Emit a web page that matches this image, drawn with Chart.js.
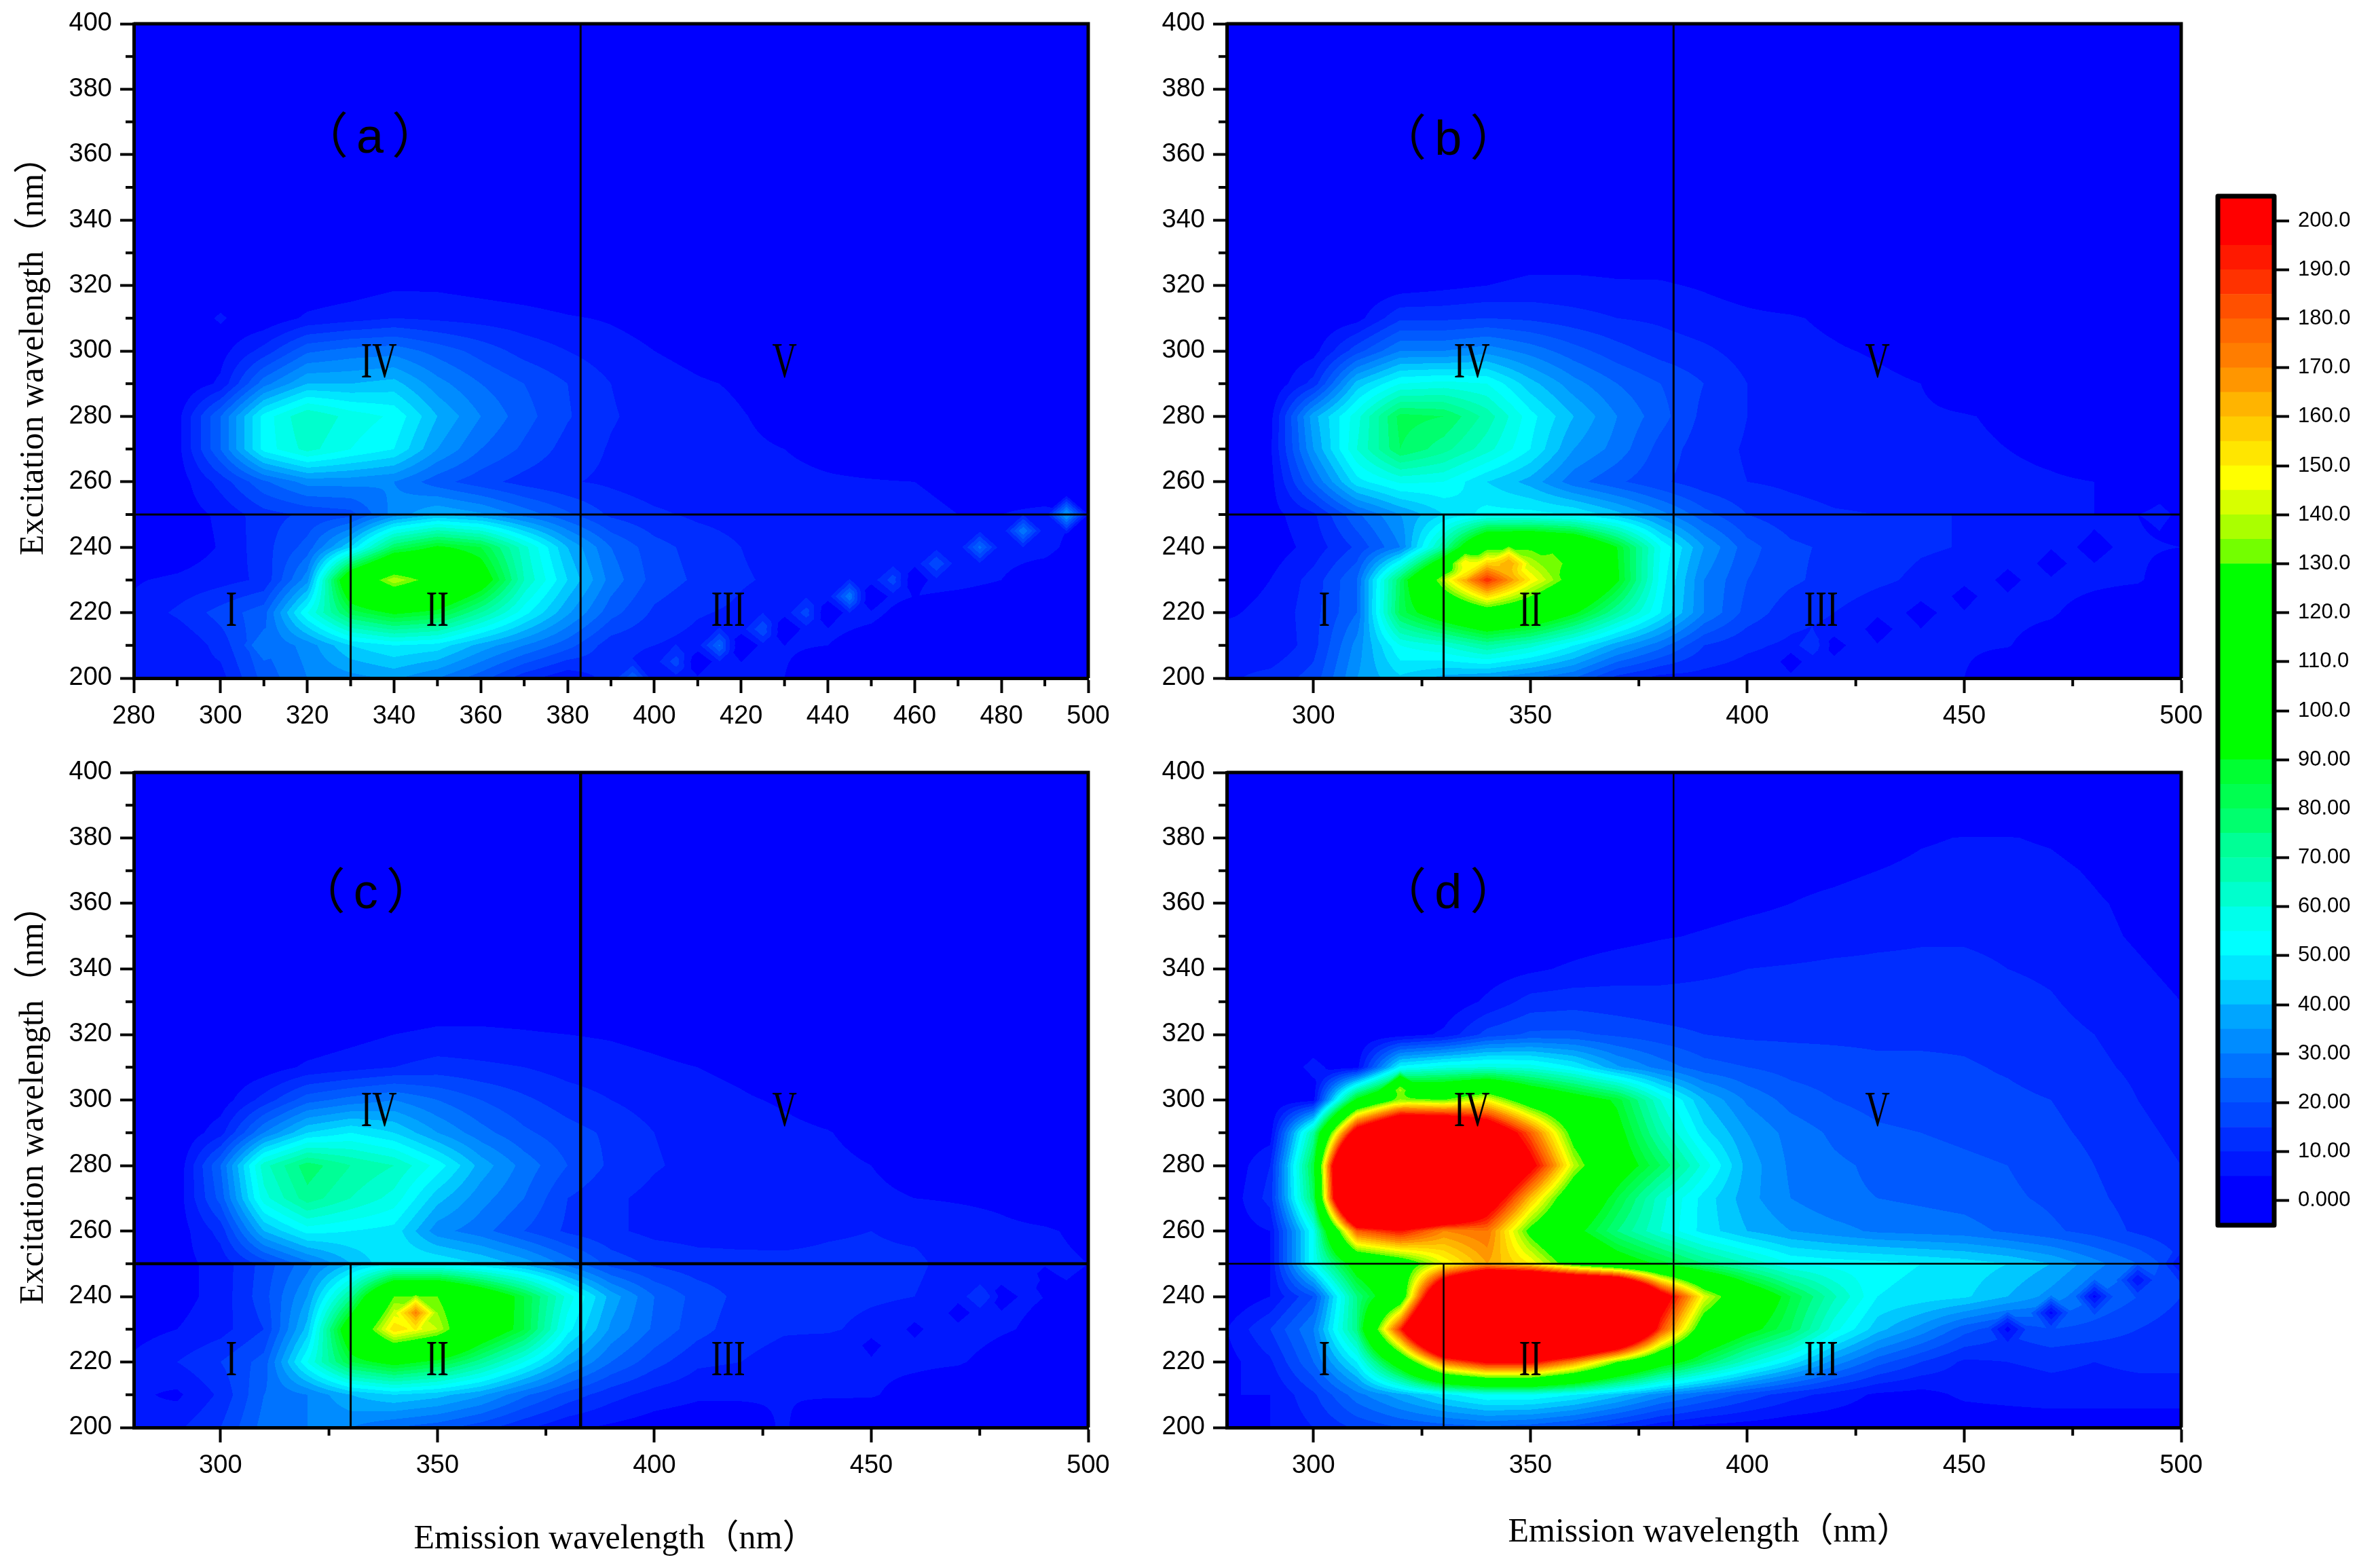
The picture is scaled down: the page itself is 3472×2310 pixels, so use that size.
<!DOCTYPE html>
<html>
<head>
<meta charset="utf-8">
<title>EEM contours</title>
<script src="https://cdn.jsdelivr.net/npm/chart.js@4/dist/chart.umd.min.js"></script>
<style>
  html, body { margin: 0; padding: 0; background: #fff; }
  #page { position: relative; width: 3472px; height: 2310px; overflow: hidden; }
  canvas { position: absolute; }
</style>
</head>
<body>
<div id="page"></div>
<script>
// Emission (columns) and excitation (rows) wavelengths of the intensity tables
const emNodes = [280,290,300,310,320,330,340,350,360,370,380,390,400,410,420,430,440,450,460,470,480,490,500];
const exNodes = [400,390,380,370,360,350,340,330,320,310,300,290,280,270,260,250,240,230,220,210,200];

const intensityA = [
  [0,0,0,0,0,0,0,0,0,0,0,0,0,0,0,0,0,0,0,0,0,0,0],
  [0,0,0,0,0,0,0,0,0,0,0,0,0,0,0,0,0,0,0,0,0,0,0],
  [0,0,0,0,0,0,0,0,0,0,0,0,0,0,0,0,0,0,0,0,0,0,0],
  [0,0,0,0,0,0,0,0,0,0,0,0,0,0,0,0,0,0,0,0,0,0,0],
  [0,0,0,0,0,0,0,0,0,0,0,0,0,0,0,0,0,0,0,0,0,0,0],
  [0,0,0,0,0,0,0,0,0,0,0,0,0,0,0,0,0,0,0,0,0,0,0],
  [0,0,0,0,0,0,0,0,0,0,0,0,0,0,0,0,0,0,0,0,0,0,0],
  [0,0,0,0,0,0,0,0,0,0,0,0,0,0,0,0,0,0,0,0,0,0,0],
  [0,0,0,0,1,2,4,4,3,2,1,0,0,0,0,0,0,0,0,0,0,0,0],
  [0,0,0,1,6,8,10,9,8,7,5.5,4.5,3,1,0,0,0,0,0,0,0,0,0],
  [0,0,3,12,24,27,28,23,18,13,10,7,5,3.5,2,1,0,0,0,0,0,0,0],
  [0,0,6,28,40,40,42,32,25,20,15,10,7,5.5,4.5,3,1,0,0,0,0,0,0],
  [0,3,25,52,65,58,54,40,30,22,15.5,10.5,8,6.5,5.2,4,2,1,0,0,0,0,0],
  [0,3,25,52,62,55,50,35,25,19,13,9.5,7.5,6.5,5.5,5,4,3,2,1,0,0,0],
  [0,2,12,24,32,32,30,22,17,13,10.5,9,7,6.5,6,5.8,5.4,5.2,5,4,3,2,1],
  [0,2,6,13,16,18,32,40,36,28,21,14,11,9,8,7.5,7,6.5,6,5,5,6,5],
  [0,1,5.5,13,22,45,80,92,85,62,40,25,17,13,10,8,7,6,5.5,6,6,6,3],
  [4.5,6,8,11,33,110,140,122,100,65,45,28,18,14,10.5,9,8,7,7,6.5,5,3,2],
  [6,11,17,23,55,82,92,87,70,52,36,22,14,10.5,9,7,6.5,6,3,1.5,1,0,0],
  [6,5,12,25,32,45,50,48,38,30,22,12,10,8,6,5.5,5,3,1,0,0,0,0],
  [8,9,8,22,30,33,36,30,22,12,6,12,5,6,5,5,1,0,0,0,0,0,0]
];
const intensityB = [
  [0,0,0,0,0,0,0,0,0,0,0,0,0,0,0,0,0,0,0,0,0,0,0],
  [0,0,0,0,0,0,0,0,0,0,0,0,0,0,0,0,0,0,0,0,0,0,0],
  [0,0,0,0,0,0,0,0,0,0,0,0,0,0,0,0,0,0,0,0,0,0,0],
  [0,0,0,0,0,0,0,0,0,0,0,0,0,0,0,0,0,0,0,0,0,0,0],
  [0,0,0,0,0,0,0,0,0,0,0,0,0,0,0,0,0,0,0,0,0,0,0],
  [0,0,0,0,0,0,0,0,0,0,0,0,0,0,0,0,0,0,0,0,0,0,0],
  [0,0,0,0,0,0,0,0,0,0,0,0,0,0,0,0,0,0,0,0,0,0,0],
  [0,0,0,0,0,1,2,3,3,3,2.5,2,1,0,0,0,0,0,0,0,0,0,0],
  [0,0,0,0,2,3.5,5,6,6,5.5,5.5,4.5,3,1,0,0,0,0,0,0,0,0,0],
  [0,0,0,3,14,14,15,14,12,10,9,7,6,5.5,4,2,1,0,0,0,0,0,0],
  [0,0,3,18,30,30,33,28,22,17,13,11,8,6.5,5.5,4.5,3,1,0,0,0,0,0],
  [0,0,12,42,55,57,55,42,32,25,20,15,10,8,7,6,5,3,1,0,0,0,0],
  [0,3,38,58,82,80,68,52,40,30,22,13.5,10,8,7,6,5.5,5.2,4.5,3,1,0,0],
  [0,4,35,60,80,72,62,50,35,28,18,12,9.5,8,7,6,5.8,5.5,5,4,2.5,1,0],
  [0,3,25,48,56,55,45,38,27,21,16,12,10,9,8,7.5,7,6.5,6,5.5,5,3,1],
  [0,3,9,24,35,45,52,52,50,42,32,22,15,12,10.5,10,10,10,9,7,5,5,3],
  [0,2,7,16,30,70,125,128,118,90,55,35,22,16,14,12,10.5,9.8,8,6,5.5,5.5,5],
  [3,5,12,25,80,140,190,150,122,92,53,30,20,16,13,11,9,8,7,6.5,6,5.5,2],
  [4.5,6,13,25,82,102,118,110,92,70,50,30,18,12,10,7,6,6,6,5.5,3,1,0],
  [7,5,13,32,55,60,70,62,50,37,27,15,11,9,8,6,5.5,5.5,5.2,3,1,0,0],
  [9,12,17,35,44,38,35,30,25,13,8,8,7,7,6.5,5.5,5.5,5,2,1,0,0,0]
];
const intensityC = [
  [0,0,0,0,0,0,0,0,0,0,0,0,0,0,0,0,0,0,0,0,0,0,0],
  [0,0,0,0,0,0,0,0,0,0,0,0,0,0,0,0,0,0,0,0,0,0,0],
  [0,0,0,0,0,0,0,0,0,0,0,0,0,0,0,0,0,0,0,0,0,0,0],
  [0,0,0,0,0,0,0,0,0,0,0,0,0,0,0,0,0,0,0,0,0,0,0],
  [0,0,0,0,0,0,0,0,0,0,0,0,0,0,0,0,0,0,0,0,0,0,0],
  [0,0,0,0,0,0,0,0,0,0,0,0,0,0,0,0,0,0,0,0,0,0,0],
  [0,0,0,0,0,0,0,0,0,0,0,0,0,0,0,0,0,0,0,0,0,0,0],
  [0,0,0,0,0,0,1,2,2,2,1,1,0,0,0,0,0,0,0,0,0,0,0],
  [0,0,0,0,1,3,5,6,6,5.5,5,4.5,3.5,2,0,0,0,0,0,0,0,0,0],
  [0,0,0,2,6,8,10,12,11,10,8,7,6,5,4,2,1,0,0,0,0,0,0],
  [0,0,2,12,23,27,30,25,20,16,12.5,10,7.5,6.5,5.5,4.5,3,1,0,0,0,0,0],
  [0,0,8,30,45,50,45,35,27,21,17,14,10,8,7,6,5.2,3.5,2,1,0,0,0],
  [0,1,25,63,78,70,65,53,38,28,20,14,10.5,8.5,7.5,6.5,6,5,4,2,1,0,0],
  [0,2,22,58,73,65,58,42,32,25,15,11,8.5,7.5,7,6,5.8,5.5,5,4.5,4,2,1],
  [0,2,12,40,52,50,48,32,27,20,14,11,8.5,8,8,8.5,9.5,10,9,7.5,6,5.5,4],
  [0,3,7,17,28,40,50,50,45,38,28,18,14,12,11.5,11,11,11,11,8,7,6,5],
  [1,3,7,18,35,72,130,130,108,85,58,38,25,18,13.5,12,11,10.5,10,7,6,5,4],
  [3,5,8,15,42,105,155,140,105,85,52,34,24,17,12,10.5,10.5,9,8,7,5.5,4,2.5],
  [6,10,15,22,55,85,95,87,72,55,37,25,17,11,10,8,6.5,6,6,5.5,3,1.5,0],
  [6,4,11,25,30,40,45,42,36,26,18,12,8,6,5.5,5.2,5.5,5.5,3,1,0,0,0],
  [5,9,15,27,30,30,25,22,17,11,6,4,2,1,3,5.5,1,0,0,0,0,0,0]
];
const intensityD = [
  [0,0,0,0,0,0,0,0,0,0,0,0,0,0,0,0,0,0,0,0,0,0,0],
  [0,0,0,0,0,0,0,0,0,0,0,0,0,0,0,0,0,0,0,0,0,0,0],
  [0,0,0,0,0,0,0,0,0,0,0,0,0,0,0,3,4.5,5.2,5.2,4.5,3,1,0],
  [0,0,0,0,0,0,0,0,0,0,0,0,2,3.5,4,5,6,6.5,6.5,6,4.5,2.5,1],
  [0,0,0,0,0,0,0,0,0,0,2,3,4,5,6,7,7.5,8,8,7,5.5,4,2],
  [0,0,0,0,0,0,0,1,2,3,4.5,5.5,6.5,7,8,9,9.5,9.5,9,8,6,4.5,3],
  [0,0,0,0,0,0,2,4,6,8,9,9.5,10,10.5,11,11,11,11,10,9,7,5.5,4],
  [0,0,0,0,0,1,6,12,13,12,11,11,11,12,12,12,12,12,12,10.5,8,6.5,5],
  [0,0,0,0,2,6,17,21,21,19,17,15,14,14,14,14,14,14,13,12,10,8,6],
  [0,0,1,3,52,58,60,58,50,36,28,22,20,18,17,16,16,15.5,14.5,13,11,9,7],
  [0,0,3,95,135,130,147,115,100,88,60,40,29,23,20,18,17,16.5,16,15,13,10,8],
  [0,2,70,215,270,270,230,180,122,95,68,47,35,28,24,21,20,19,18,16,14,11,9],
  [0,10,85,340,340,320,260,205,140,100,80,58,38,29,26,24,22,21,20,17.5,15,12,10],
  [1,12,80,330,340,310,220,160,110,85,62,48,37,30,26,25,24,23,21,19,16,13,10],
  [2,5,55,180,195,170,175,125,95,75,60,48,40,35,32,29,28,27,24,21,18,14,11],
  [0,5,55,100,115,145,165,150,120,100,88,75,65,55,53,52,50,48,45,40,32,25,15],
  [0,5,20,75,110,260,340,360,350,340,215,145,108,85,66,50,48,46,40,33,25,20,15],
  [5,15,30,75,190,330,350,350,340,300,185,115,95,80,57,42,33,22,16,20,18,15,12],
  [3,9,25,50,105,175,200,200,170,130,100,80,62,48,33,22,15,9,10,11,10,11,11],
  [5,5,14,28,38,48,55,55,50,42,32,25,18,12,8,4,3,6,7,8,8,8,8],
  [3,5,10,16,20,22,24,22,18,12,6,3,2,1,1,1,1,1,1,1,1,1,1]
];

// Single off-grid readings (em, ex, intensity): the scatter diamonds and small peaks
const spotsA = [[495,250,38],[485,245,30],[475,240,27],[465,235,20],[455,230,18],[445,225,30],[435,220,18],[425,215,20],[415,210,26],[405,205,18],[395,200,25],[410,205,2],[420,210,2],[430,215,2],[440,220,2],[450,225,2],[460,230,2],[300,310,7],[310,210,30]];
const spotsB = [[480,240,2],[470,235,2],[460,230,2],[450,225,2],[440,220,2],[430,215,2],[420,210,2],[410,205,2],[415,210,12],[495,250,7],[345,235,165],[335,235,150],[355,235,135]];
const spotsC = [[490,245,3],[480,240,3],[470,235,3],[460,230,3],[450,225,3],[475,240,15],[485,245,10],[345,235,172]];
const spotsD = [[490,245,5],[480,240,3],[470,235,3],[460,230,3],[500,250,5],[300,310,9],[320,303,137]];

// Contour bands, 5 units wide, lowest first
const levelStep = 5;
const levelColors = ["#0000ff","#0018ff","#002dff","#0046ff","#005aff","#0073ff","#008cff","#00a5ff","#00c8ff","#00e6ff",
  "#00ffff","#00ffeb","#00ffcd","#00ffaf","#00ff96","#00ff6e","#00ff50","#00ff32","#00ff00","#00ff00",
  "#00ff00","#00ff00","#00ff00","#00ff00","#00ff00","#00ff00","#73ff00","#aaff00","#d7ff00","#ffff00",
  "#ffe600","#ffcd00","#ffb400","#ff9600","#ff7d00","#ff6900","#ff5000","#ff3200","#ff1900","#ff0000"];
const barTicks = [0,10,20,30,40,50,60,70,80,90,100,110,120,130,140,150,160,170,180,190,200];

const yMajor = [200,220,240,260,280,300,320,340,360,380,400];
const yMinor = [210,230,250,270,290,310,330,350,370,390];
const xMajorA = [280,300,320,340,360,380,400,420,440,460,480,500];
const xMinorA = [290,310,330,350,370,390,410,430,450,470,490];
const xMajor = [300,350,400,450,500];
const xMinor = [325,375,425,475];

// Dividers of the five regions
const dividers = [[[383,200],[383,400]], [[280,250],[500,250]], [[330,200],[330,250]]];
const regionLabels = [["I",302.5,220],["II",350,220],["III",417,220],["IV",336.5,296],["V",430,296]];

const panels = [
  { id: "(a)", tag: "（a）", tagAt: [335.4,364.6], grid: intensityA, spots: spotsA, xMajor: xMajorA, xMinor: xMinorA, left: 0, top: 0, width: 1650, height: 1069, plotLeft: 197, plotTop: 35, lineW: 3, yTitle: true },
  { id: "(b)", tag: "（b）", tagAt: [332,364], grid: intensityB, spots: spotsB, xMajor: xMajor, xMinor: xMinor, left: 1680, top: 0, width: 1578, height: 1069, plotLeft: 127, plotTop: 35, lineW: 3 },
  { id: "(c)", tag: "（c）", tagAt: [334.4,362.6], grid: intensityC, spots: spotsC, xMajor: xMajor, xMinor: xMinor, left: 0, top: 1100, width: 1650, height: 1210, plotLeft: 197, plotTop: 38, lineW: 4.5, yTitle: true, xTitle: [906,1168] },
  { id: "(d)", tag: "（d）", tagAt: [332,362.6], grid: intensityD, spots: spotsD, xMajor: xMajor, xMinor: xMinor, left: 1680, top: 1100, width: 1578, height: 1210, plotLeft: 127, plotTop: 38, lineW: 2.5, xTitle: [838,1158] }
];

const page = document.getElementById("page");

function rgbOf(hex) {
  return [parseInt(hex.slice(1, 3), 16), parseInt(hex.slice(3, 5), 16), parseInt(hex.slice(5, 7), 16)];
}
const levelRgb = levelColors.map(rgbOf);

function intensityAt(panel, em, ex) {
  const fx = Math.min(Math.max((em - 280) / 10, 0), 21.999);
  const fy = Math.min(Math.max((400 - ex) / 10, 0), 19.999);
  const i = Math.floor(fx), j = Math.floor(fy);
  const tx = fx - i, ty = fy - j;
  const g = panel.grid;
  let v = (g[j][i] * (1 - tx) + g[j][i + 1] * tx) * (1 - ty) + (g[j + 1][i] * (1 - tx) + g[j + 1][i + 1] * tx) * ty;
  // a spot pulls the surface towards its reading within one step around it
  for (const s of panel.spots) {
    const w = 1 - Math.abs(em - s[0]) / 5 - Math.abs(ex - s[1]) / 6;
    if (w > 0) v += (s[2] - v) * w;
  }
  return v;
}

// Paints the contour bands under the axes, pixel by pixel through the chart's own scales
const contourPlugin = {
  id: "contour",
  beforeDraw(chart) {
    const panel = chart.options.plugins.contour.panel;
    const a = chart.chartArea, sx = chart.scales.x, sy = chart.scales.y;
    const w = Math.round(a.right - a.left), h = Math.round(a.bottom - a.top);
    const off = document.createElement("canvas");
    off.width = w; off.height = h;
    const octx = off.getContext("2d");
    const img = octx.createImageData(w, h);
    for (let py = 0; py < h; py++) {
      const ex = sy.getValueForPixel(a.top + py + 0.5);
      for (let px = 0; px < w; px++) {
        const em = sx.getValueForPixel(a.left + px + 0.5);
        const v = intensityAt(panel, em, ex);
        const c = levelRgb[Math.max(0, Math.min(levelRgb.length - 1, Math.floor(v / levelStep)))];
        const k = (py * w + px) * 4;
        img.data[k] = c[0]; img.data[k + 1] = c[1]; img.data[k + 2] = c[2]; img.data[k + 3] = 255;
      }
    }
    octx.putImageData(img, 0, 0);
    chart.ctx.drawImage(off, a.left, a.top);
  }
};

// Minor ticks, frame, panel tag, region numerals and axis titles
const panelTextPlugin = {
  id: "panelText",
  afterDraw(chart) {
    const panel = chart.options.plugins.panelText.panel;
    const ctx = chart.ctx, a = chart.chartArea, sx = chart.scales.x, sy = chart.scales.y;
    ctx.save();
    ctx.strokeStyle = "#000";
    ctx.lineWidth = 4;
    ctx.beginPath();
    for (const v of panel.xMinor) {
      const p = sx.getPixelForValue(v);
      ctx.moveTo(p, a.bottom); ctx.lineTo(p, a.bottom + 12);
    }
    for (const v of yMinor) {
      const p = sy.getPixelForValue(v);
      ctx.moveTo(a.left, p); ctx.lineTo(a.left - 12, p);
    }
    ctx.stroke();
    ctx.lineWidth = 5;
    ctx.beginPath();
    ctx.moveTo(a.left, a.top); ctx.lineTo(a.right, a.top); ctx.lineTo(a.right, a.bottom);
    ctx.stroke();

    ctx.fillStyle = "#000";
    ctx.textAlign = "center";
    ctx.textBaseline = "middle";
    ctx.font = '72px "Liberation Sans","Noto Sans CJK SC"';
    ctx.letterSpacing = "12px";
    ctx.fillText(panel.tag, sx.getPixelForValue(panel.tagAt[0]), sy.getPixelForValue(panel.tagAt[1]));
    ctx.letterSpacing = "0px";

    ctx.font = '74px "Liberation Serif"';
    for (const r of regionLabels) {
      ctx.save();
      ctx.translate(sx.getPixelForValue(r[1]), sy.getPixelForValue(r[2]));
      ctx.scale(0.68, 1);
      ctx.fillText(r[0], 0, 0);
      ctx.restore();
    }

    ctx.font = '50px "Liberation Serif","Noto Sans CJK SC"';
    if (panel.yTitle) {
      ctx.save();
      ctx.translate(50, a.top + (a.bottom - a.top) / 2 - 5);
      ctx.rotate(-Math.PI / 2);
      ctx.fillText("Excitation wavelength（nm）", 0, 0);
      ctx.restore();
    }
    if (panel.xTitle) {
      ctx.fillText("Emission wavelength（nm）", panel.xTitle[0], panel.xTitle[1]);
    }
    ctx.restore();
  }
};

function makePanel(panel) {
  const canvas = document.createElement("canvas");
  canvas.width = panel.width;
  canvas.height = panel.height;
  canvas.style.left = panel.left + "px";
  canvas.style.top = panel.top + "px";
  page.appendChild(canvas);

  const nodes = [];
  exNodes.forEach((ex, j) => emNodes.forEach((em, i) => nodes.push({ x: em, y: ex, v: panel.grid[j][i] })));

  const datasets = [{ label: "intensity", data: nodes, pointRadius: 0, showLine: false }];
  dividers.forEach((d, n) => {
    datasets.push({
      label: "divider " + n,
      data: d.map(p => ({ x: p[0], y: p[1] })),
      showLine: true, pointRadius: 0, borderColor: "#000",
      borderWidth: n === 2 ? Math.min(panel.lineW, 3) : panel.lineW
    });
  });

  const tickFont = { family: "Liberation Sans", size: 38 };
  const plotW = 1406, plotH = panel.id === "(a)" || panel.id === "(b)" ? 964 : 965;
  new Chart(canvas, {
    type: "scatter",
    data: { datasets: datasets },
    options: {
      responsive: false,
      animation: false,
      layout: { padding: { top: panel.plotTop, right: panel.width - panel.plotLeft - plotW } },
      plugins: {
        legend: { display: false },
        tooltip: { enabled: false },
        contour: { panel: panel },
        panelText: { panel: panel }
      },
      scales: {
        x: {
          type: "linear", min: 280, max: 500,
          afterBuildTicks(s) { s.ticks = panel.xMajor.map(v => ({ value: v })); },
          afterFit(s) { s.height = panel.height - panel.plotTop - plotH; },
          border: { color: "#000", width: 5 },
          grid: { drawOnChartArea: false, tickLength: 22, tickWidth: 4, tickColor: "#000" },
          ticks: { color: "#000", font: tickFont, padding: 12, autoSkip: false, maxRotation: 0, minRotation: 0 }
        },
        y: {
          type: "linear", min: 200, max: 400,
          afterBuildTicks(s) { s.ticks = yMajor.map(v => ({ value: v })); },
          afterFit(s) { s.width = panel.plotLeft; },
          border: { color: "#000", width: 5 },
          grid: { drawOnChartArea: false, tickLength: 20, tickWidth: 4, tickColor: "#000" },
          ticks: { color: "#000", font: tickFont, padding: 12, autoSkip: false }
        }
      }
    },
    plugins: [contourPlugin, panelTextPlugin]
  });
}

function makeColorBar() {
  const canvas = document.createElement("canvas");
  canvas.width = 212;
  canvas.height = 1600;
  canvas.style.left = "3260px";
  canvas.style.top = "260px";
  page.appendChild(canvas);

  const bandSets = levelColors.map((c, i) => ({
    label: "band " + i,
    data: [[i === 0 ? -5 : i * levelStep, i === levelColors.length - 1 ? 205 : (i + 1) * levelStep]],
    backgroundColor: c,
    grouped: false,
    barPercentage: 1,
    categoryPercentage: 1
  }));

  const framePlugin = {
    id: "barFrame",
    afterDraw(chart) {
      const a = chart.chartArea, ctx = chart.ctx;
      ctx.save();
      ctx.strokeStyle = "#000";
      ctx.lineWidth = 7;
      ctx.lineJoin = "round";
      ctx.strokeRect(a.left - 3, a.top - 3, a.right - a.left + 6, a.bottom - a.top + 6);
      ctx.restore();
    }
  };

  new Chart(canvas, {
    type: "bar",
    data: { labels: ["level"], datasets: bandSets },
    options: {
      responsive: false,
      animation: false,
      layout: { padding: { top: 32, bottom: 58, left: 10 } },
      plugins: { legend: { display: false }, tooltip: { enabled: false } },
      scales: {
        x: { display: false },
        y: {
          position: "right", min: -4.6, max: 204.6,
          afterBuildTicks(s) { s.ticks = barTicks.map(v => ({ value: v })); },
          afterFit(s) { s.width = 125; },
          border: { display: false },
          grid: { drawOnChartArea: false, tickLength: 25, tickWidth: 4, tickColor: "#000" },
          ticks: {
            color: "#000", font: { family: "Liberation Sans", size: 31 }, padding: 13, autoSkip: false,
            callback: v => v === 0 ? "0.000" : v < 100 ? v.toFixed(2) : v.toFixed(1)
          }
        }
      }
    },
    plugins: [framePlugin]
  });
}

panels.forEach(makePanel);
makeColorBar();
</script>
</body>
</html>
